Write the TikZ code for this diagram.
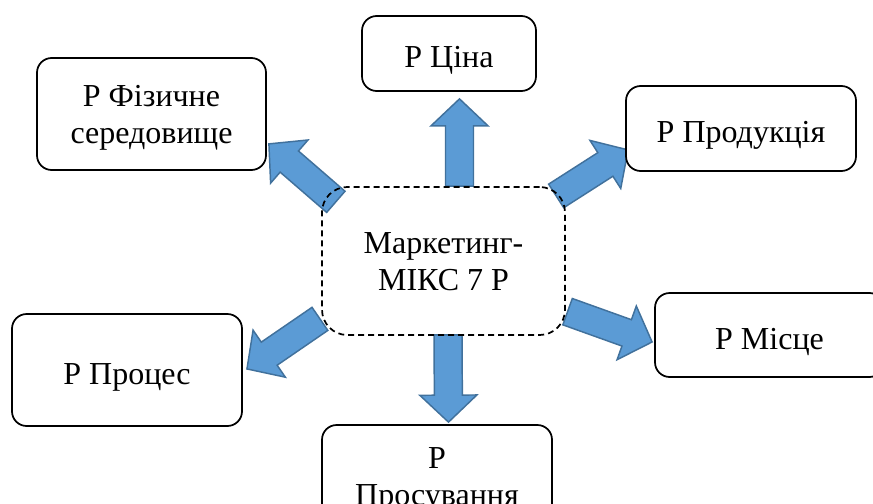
\documentclass[tikz,border=0pt]{standalone}
\usepackage{fontspec}
\setmainfont{Liberation Serif}
\usetikzlibrary{calc}
\usetikzlibrary{backgrounds}
\definecolor{arrowfill}{HTML}{5B9BD5}
\definecolor{arrowline}{HTML}{41719C}

\tikzset{
  pbox/.style={draw, line width=1.3pt, rounded corners=11pt, fill=white,
    align=center, inner sep=0pt, font=\fontsize{24}{27.5}\selectfont,
    text height=25pt, text depth=4pt},
  pboxtwo/.style={pbox, text height=45pt, text depth=1.5pt},
  mixbox/.style={pboxtwo, fill=none, dash pattern=on 4.5pt off 3pt, rounded corners=19pt},
  fatarrow/.style={fill=arrowfill, draw=arrowline, line width=1.1pt, line join=miter},
}

% block arrow from tail #1 to tip #2
\newcommand{\blockarrow}[2]{%
  \path let \p1=(#1), \p2=(#2) in
    \pgfextra{%
      \pgfmathsetmacro\arrang{atan2(\y2-\y1,\x2-\x1)}%
      \pgfmathsetmacro\arrlen{veclen(\x2-\x1,\y2-\y1)}%
      \global\let\arrang\arrang
      \global\let\arrlen\arrlen};
  \draw[fatarrow, shift={(#1)}, rotate=\arrang]
    (0pt,-10.5pt) -- (\arrlen pt-20.25pt,-10.5pt) -- (\arrlen pt-20.25pt,-21.4pt)
    -- (\arrlen pt,0pt) -- (\arrlen pt-20.25pt,21.4pt) -- (\arrlen pt-20.25pt,10.5pt)
    -- (0pt,10.5pt) -- cycle;
}

\begin{document}
\begin{tikzpicture}[x=0.75pt, y=-0.75pt]
    \useasboundingbox (0,0) rectangle (873,503);
    \clip (0,0) rectangle (873,503);

    \node[mixbox, minimum width=182.25pt, minimum height=111pt] (mix) at (443.5,261) {Маркетинг-\\МІКС 7 Р};

    \node[pbox, minimum width=130.5pt, minimum height=56.25pt] (price) at (449,53.5) {Р Ціна};
    \node[pboxtwo, minimum width=171.75pt, minimum height=84pt] (phys) at (151.5,114) {Р Фізичне\\середовище};
    \node[pbox, minimum width=172.5pt, minimum height=63.75pt] (prod) at (741,128.5) {Р Продукція};
    \node[pbox, minimum width=171.75pt, minimum height=63pt] (place) at (769.5,335) {Р Місце};
    \node[pbox, minimum width=172.5pt, minimum height=84pt] (proc) at (127,370) {Р Процес};
    \node[pboxtwo, minimum width=172.5pt, minimum height=76.5pt] (promo) at (437,476) {Р\\Просування};

    % arrow ends
    \coordinate (upT) at ($(mix.north)+(16,0)$);
    \coordinate (upH) at ($(price.south)+(10.5,7)$);
    \coordinate (dnT) at ($(mix.south)+(4.5,-1)$);
    \coordinate (dnH) at ($(promo.north)+(11.5,-2)$);
    \coordinate (ulT) at ($(mix.north west)+(14.7,15.7)$);
    \coordinate (ulH) at ($(phys.south east)+(2,-27)$);
    \coordinate (urT) at ($(mix.north east)+(-9.7,9.8)$);
    \coordinate (urH) at ($(prod.south west)+(3,-22)$);
    \coordinate (lrT) at ($(mix.south east)+(1.7,-24.2)$);
    \coordinate (lrH) at ($(place.west)+(-2,7)$);
    \coordinate (llT) at ($(mix.south west)+(-1.2,-17)$);
    \coordinate (llH) at ($(proc.east)+(4,-1)$);

    \begin{pgfonlayer}{background}
      \blockarrow{upT}{upH}
      \blockarrow{dnT}{dnH}
      \blockarrow{ulT}{ulH}
      \blockarrow{urT}{urH}
      \blockarrow{lrT}{lrH}
      \blockarrow{llT}{llH}
    \end{pgfonlayer}
\end{tikzpicture}
\end{document}
